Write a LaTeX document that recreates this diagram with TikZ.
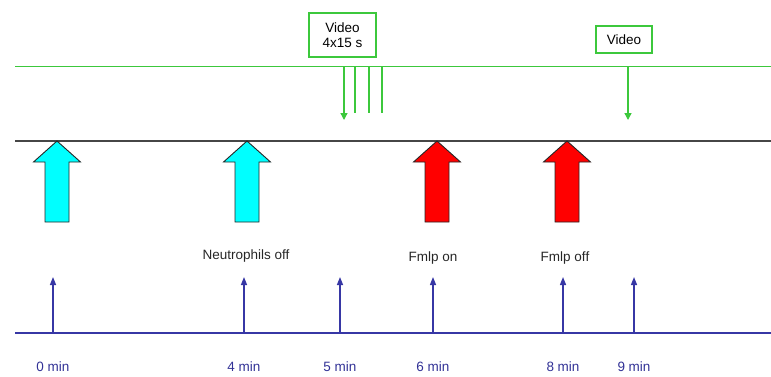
\documentclass[tikz,border=0pt]{standalone}
\usepackage{fontspec}
\setmainfont{Liberation Sans}
\usetikzlibrary{arrows.meta}
\definecolor{vgreen}{RGB}{60,200,60}
\definecolor{axisblue}{RGB}{55,55,165}
\definecolor{lblblue}{RGB}{50,50,150}
\definecolor{darkline}{RGB}{70,70,70}
\definecolor{cyanfill}{RGB}{0,255,255}
\definecolor{redfill}{RGB}{255,0,0}
\tikzset{
  vbox/.style={draw=vgreen,line width=1.2pt,fill=white,font=\fontsize{13.5}{15}\selectfont,align=center,inner sep=0pt},
  gline/.style={draw=vgreen,line width=1.3pt},
  garrow/.style={gline,-{Triangle[length=7pt,width=7pt]}},
  barrow/.style={draw=axisblue,line width=1.4pt,-{Triangle[length=8pt,width=6pt]}},
  tlabel/.style={text=lblblue,font=\fontsize{13.5}{15}\selectfont},
  elabel/.style={text=black!85,font=\fontsize{13.5}{15}\selectfont},
  bigarrow/.pic={\draw[line width=0.9pt,draw=black!85,fill=#1,line join=miter]
    (0,0) -- (23.5,21) -- (12,21) -- (12,81) -- (-12,81) -- (-12,21) -- (-23.5,21) -- cycle;}
}
\begin{document}
\begin{tikzpicture}[x=1pt,y=-1pt]
\useasboundingbox (0,0) rectangle (771,376);
% lines
\coordinate (gL) at (15,66); \coordinate (gR) at (771,66);
\coordinate (kL) at (15,141); \coordinate (kR) at (771,141);
\coordinate (bL) at (15,333); \coordinate (bR) at (771,333);
\draw[draw=vgreen,line width=1pt] (gL) -- (gR);
\draw[draw=darkline,line width=1.8pt] (kL) -- (kR);
\draw[draw=axisblue,line width=1.3pt] (bL) -- (bR);
% video boxes
\node[vbox,minimum width=67pt,minimum height=44pt] (v1) at (342.5,35) {Video\\4x15 s};
\node[vbox,minimum width=56pt,minimum height=27pt] (v2) at (624,39.5) {Video};
% green arrows
\foreach \x/\n in {344/a,355/b,369/c,382/d}{
  \coordinate (gs\n) at (\x,66);
}
\coordinate (ge a) at (344,120);
\coordinate (ge b) at (355,113);
\coordinate (ge c) at (369,113);
\coordinate (ge d) at (382,113);
\draw[garrow] (gsa) -- (ge a);
\draw[gline] (gsb) -- (ge b);
\draw[gline] (gsc) -- (ge c);
\draw[gline] (gsd) -- (ge d);
\coordinate (gse) at (628,66); \coordinate (gee) at (628,120);
\draw[garrow] (gse) -- (gee);
% big arrows
\pic at (57,141) {bigarrow=cyanfill};
\pic at (247,141) {bigarrow=cyanfill};
\pic at (437,141) {bigarrow=redfill};
\pic at (567,141) {bigarrow=redfill};
% event labels
\node[elabel] (l1) at (246,256) {Neutrophils off};
\node[elabel] (l2) at (433,258) {Fmlp on};
\node[elabel] (l3) at (565,258) {Fmlp off};
% time axis arrows and labels
\foreach \x/\t/\n in {53/0/t0,244/4/t4,340/5/t5,433/6/t6,563/8/t8,634/9/t9}{
  \coordinate (\n a) at (\x,333);
  \coordinate (\n b) at (\x,277);
  \draw[barrow] (\n a) -- (\n b);
  \node[tlabel] (\n l) at (\x,367) {\t\ min};
}
\end{tikzpicture}
\end{document}
